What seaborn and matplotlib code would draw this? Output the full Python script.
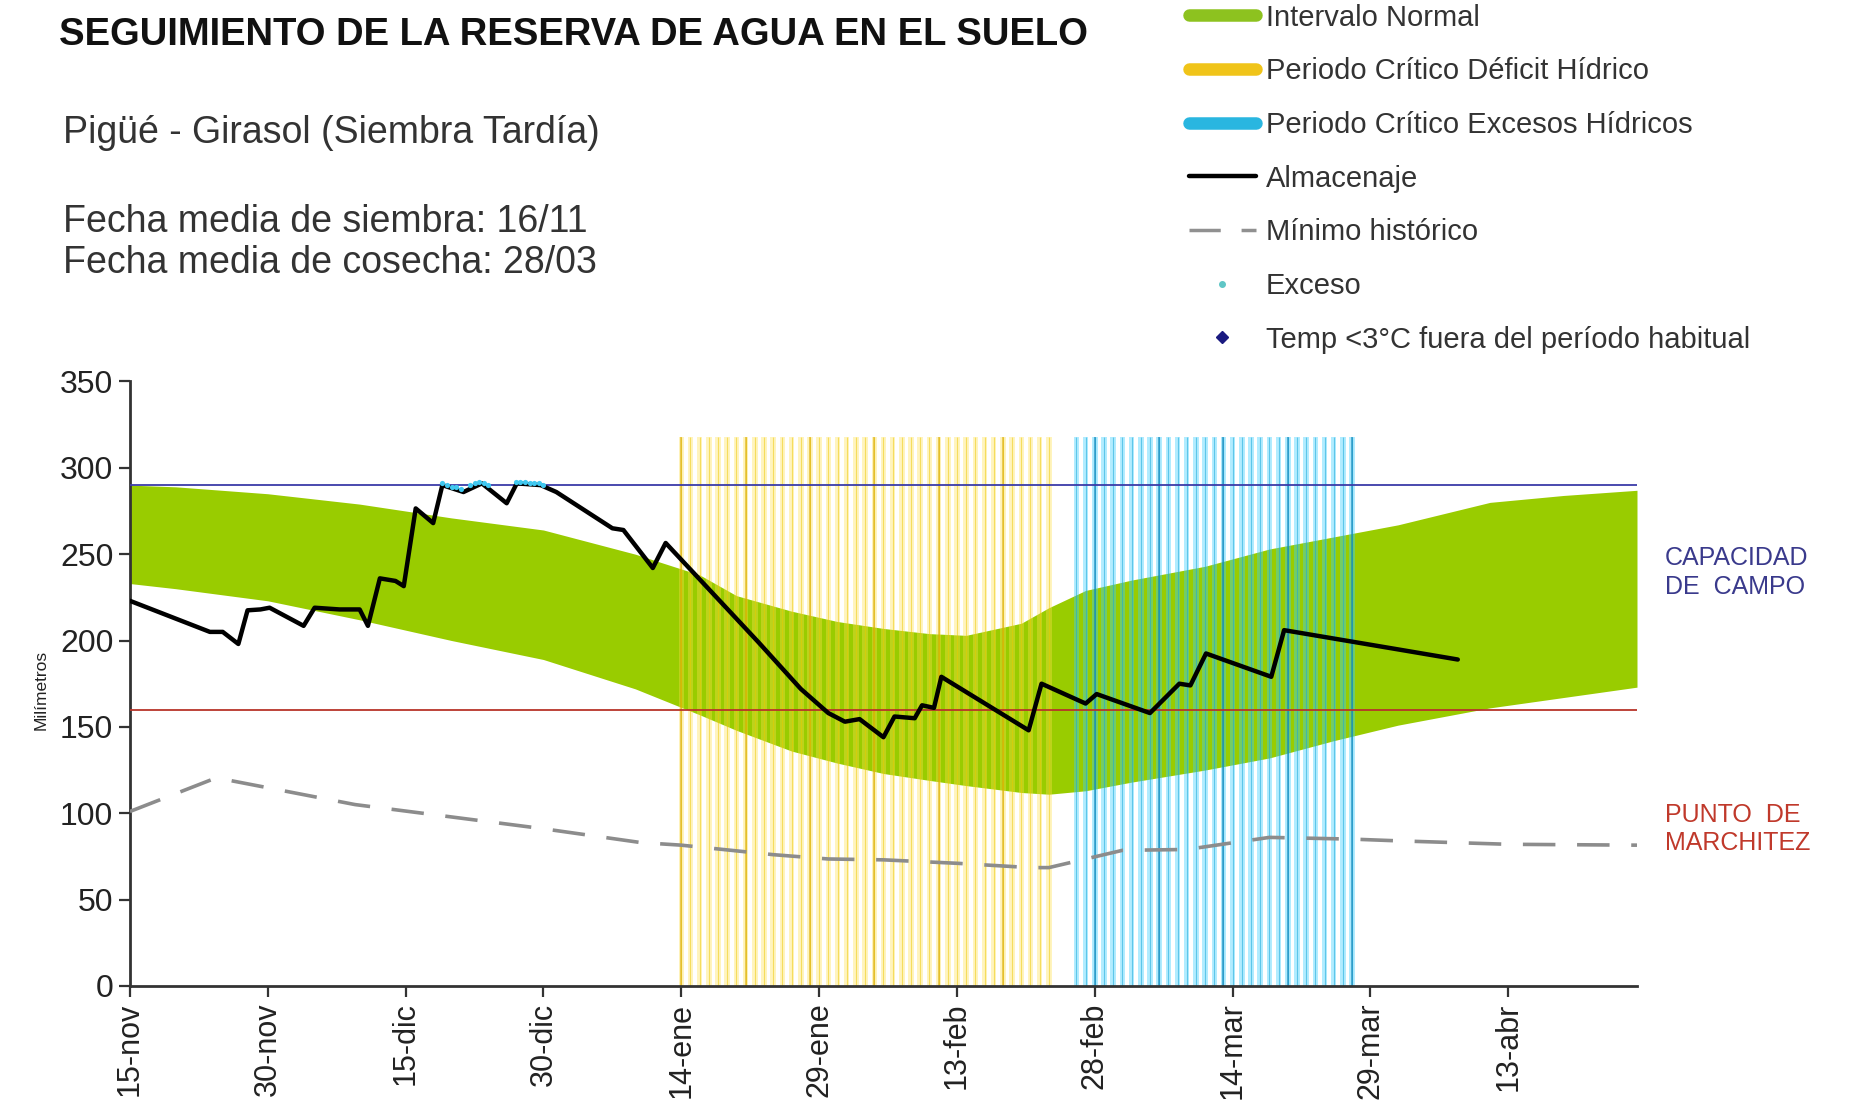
import numpy as np
import matplotlib
matplotlib.use("Agg")
import matplotlib.pyplot as plt
from matplotlib.lines import Line2D
import seaborn as sns

# ---------------- data ----------------
tick_days = [0, 15, 30, 45, 60, 75, 90, 105, 120, 135, 150]
tick_labels = ["15-nov", "30-nov", "15-dic", "30-dic", "14-ene", "29-ene",
               "13-feb", "28-feb", "14-mar", "29-mar", "13-abr"]
y_ticks = [0, 50, 100, 150, 200, 250, 300, 350]

capacidad_campo = 290
punto_marchitez = 160

band_days = [0, 5, 15, 25, 35, 45, 55, 62, 66, 72, 77, 82, 87, 91, 97, 100,
             104, 109, 117, 124, 131, 138, 148, 156, 164]
band_upper = [290, 289, 285, 279, 271, 264, 250, 238, 226, 217, 211, 207, 204,
              203, 210, 219, 229, 235, 243, 253, 260, 267, 280, 284, 287]
band_lower = [233, 230, 223, 212, 200, 189, 172, 157, 148, 136, 129, 123, 119,
              116, 112, 111, 113, 118, 125, 132, 142, 151, 161, 167, 173]

alm_days = [0, 8.7, 10.1, 11.8, 12.8, 14.2, 15.2, 18.9, 20.1, 22.8, 25, 25.9,
            27.2, 28.9, 29.8, 31.1, 33, 34, 36.3, 38.3, 41, 42.1, 44.7, 46.4,
            52.5, 53.7, 56.9, 58.3, 68.4, 73, 76, 77.8, 79.4, 82, 83.2, 85.4,
            86.2, 87.5, 88.3, 97.8, 99.2, 104, 105.2, 111, 114.2, 115.4, 117.1,
            124.2, 125.6, 138.4, 144.5]
alm_vals = [223, 205, 205, 198, 217.5, 218, 219, 208.5, 219, 218, 218, 208.5,
            236, 234.5, 231.5, 276.5, 268, 290, 286, 291, 279.5, 291, 290, 286,
            265, 264, 242, 256.5, 199, 172, 158, 153, 154.5, 144, 156, 155,
            162.5, 161, 179, 148, 175, 163.5, 169, 158, 175, 174, 192.5,
            179, 206, 194.5, 189]

min_days = [0, 9.4, 24.5, 45, 55.6, 60, 70, 76, 82, 90, 98, 100, 102, 108, 115,
            124, 133, 138, 150, 164]
min_vals = [101, 120.5, 105, 91, 83, 81.5, 76, 73.5, 73, 71, 68.5, 68.5, 71,
            78.5, 79, 86, 85, 84, 82, 81.5]

exceso_days = [34, 34.5, 35, 35.5, 36, 37, 37.5, 38, 38.5, 39, 42, 42.5, 43,
               43.5, 44, 44.5, 45]
exceso_vals = [291, 290, 289, 289, 288, 290, 291, 292, 291, 290, 292, 292, 292,
               291, 291, 291, 290]

deficit_period = list(range(60, 101))
excesos_period = list(range(103, 134))
period_top = 318

# ---------------- style ----------------
sns.set_theme(style="white")
plt.rcParams['font.family'] = ['Liberation Sans', 'DejaVu Sans']

fig = plt.figure(figsize=(18.56, 11.09), dpi=100)
ax = fig.add_axes([0.0700, 0.111, 0.812, 0.545])

GREEN = "#99cc00"
ax.fill_between(band_days, band_lower, band_upper, color=GREEN, lw=0, zorder=1)

# critical periods as striped bars
ax.bar(deficit_period, [period_top] * len(deficit_period), width=0.6,
       color="#ffe14d", alpha=0.36, linewidth=0, zorder=2)
ax.vlines(deficit_period, 0, period_top, color="#ecc800", lw=0.8, alpha=0.5, zorder=2)
ax.vlines(deficit_period[::7], 0, period_top, color="#d9a900", lw=1.5, alpha=0.55, zorder=2)

ax.bar(excesos_period, [period_top] * len(excesos_period), width=0.6,
       color="#3cd0ff", alpha=0.40, linewidth=0, zorder=2)
ax.vlines(excesos_period, 0, period_top, color="#1aa8d8", lw=0.8, alpha=0.55, zorder=2)
ax.vlines(excesos_period[2::7], 0, period_top, color="#0c84b8", lw=1.5, alpha=0.6, zorder=2)

ax.axhline(capacidad_campo, color="#3b3ba8", lw=1.3, zorder=3)
ax.axhline(punto_marchitez, color="#b8352a", lw=1.3, zorder=3)

sns.lineplot(x=min_days, y=min_vals, ax=ax, color="#8c8c8c", lw=2.6,
             sort=False, estimator=None, zorder=3, dashes=False)
ax.lines[-1].set_dashes([9, 6])

sns.lineplot(x=alm_days, y=alm_vals, ax=ax, color="black", lw=3.2,
             sort=False, estimator=None, zorder=4)
sns.scatterplot(x=exceso_days, y=exceso_vals, ax=ax, color="#40c8f0", s=14,
                linewidth=0, zorder=5)

ax.set_xlim(0, 164)
ax.set_ylim(0, 350)
ax.set_xticks(tick_days)
ax.set_xticklabels(tick_labels, rotation=90, fontsize=22, color="#222222")
ax.set_yticks(y_ticks)
ax.set_yticklabels([str(v) for v in y_ticks], fontsize=23, color="#222222")
for s in ["top", "right"]:
    ax.spines[s].set_visible(False)
for s in ["left", "bottom"]:
    ax.spines[s].set_color("#333333")
    ax.spines[s].set_linewidth(2)
ax.tick_params(axis="both", direction="out", length=8, width=1.6,
               color="#333333", pad=4, left=True, bottom=True)
ax.set_xlabel("")
ax.set_ylabel("")
ax.grid(False)

fig.text(0.022, 0.378, "Milímetros", rotation=90, fontsize=12.5,
         ha="center", va="center", color="#222222")

# titles
fig.text(0.032, 0.968, "SEGUIMIENTO DE LA RESERVA DE AGUA EN EL SUELO",
         fontsize=27.5, fontweight="bold", ha="left", va="center", color="#111111")
fig.text(0.034, 0.880, "Pigüé - Girasol (Siembra Tardía)", fontsize=27,
         ha="left", va="center", color="#333333")
fig.text(0.034, 0.800, "Fecha media de siembra: 16/11", fontsize=27,
         ha="left", va="center", color="#333333")
fig.text(0.034, 0.763, "Fecha media de cosecha: 28/03", fontsize=27,
         ha="left", va="center", color="#333333")

# right-side labels
fig.text(0.897, 0.484, "CAPACIDAD\nDE  CAMPO", fontsize=18, color="#3a3a8c",
         ha="left", va="center", linespacing=1.25)
fig.text(0.897, 0.2525, "PUNTO  DE\nMARCHITEZ", fontsize=18, color="#c0392b",
         ha="left", va="center", linespacing=1.25)

# legend
handles = [
    Line2D([], [], color="#8dc21f", lw=9),
    Line2D([], [], color="#f0c419", lw=9),
    Line2D([], [], color="#29b6e0", lw=9),
    Line2D([], [], color="black", lw=3.2),
    Line2D([], [], color="#909090", lw=2.5, dashes=[9, 6]),
    Line2D([], [], color="#5fc6c6", marker="o", markersize=4, lw=0),
    Line2D([], [], color="#1a1a80", marker="D", markersize=6, lw=0),
]
labels = ["Intervalo Normal", "Periodo Crítico Déficit Hídrico",
          "Periodo Crítico Excesos Hídricos", "Almacenaje", "Mínimo histórico",
          "Exceso", "Temp <3°C fuera del período habitual"]
leg = fig.legend(handles, labels, loc="upper left",
                 bbox_to_anchor=(0.639, 0.9994), frameon=False, fontsize=21,
                 handlelength=2.3, handletextpad=0.33, labelspacing=0.88,
                 borderpad=0.1, borderaxespad=0)
for t in leg.get_texts():
    t.set_color("#333333")

fig.savefig("out.png", dpi=100, facecolor="white")
